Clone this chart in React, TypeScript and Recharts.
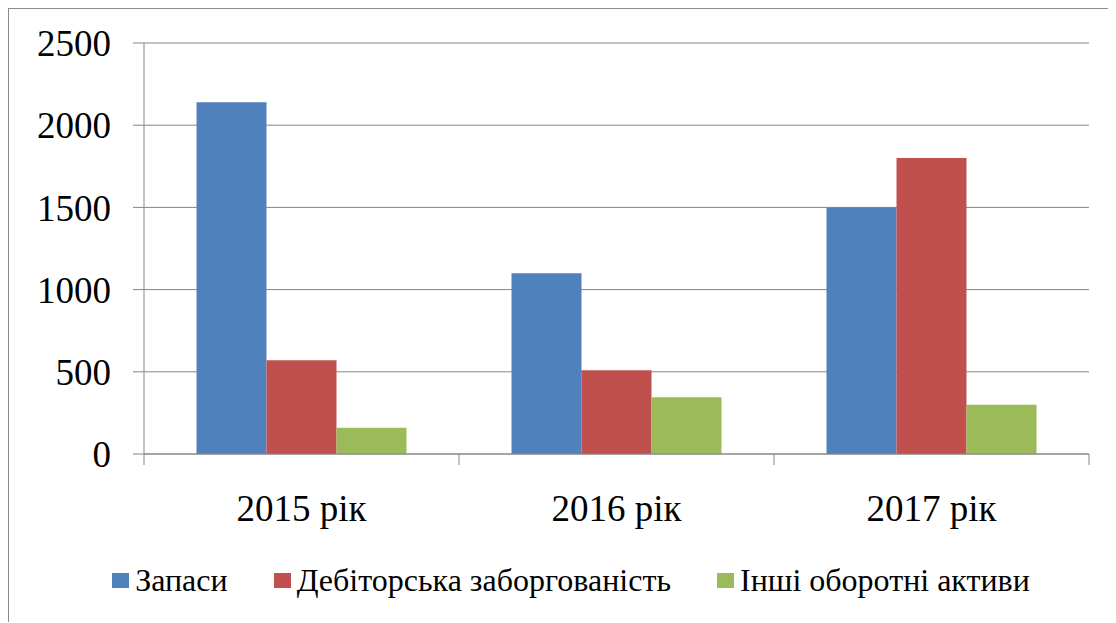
import React from 'react';
import {
  BarChart,
  Bar,
  XAxis,
  YAxis,
  CartesianGrid,
  Legend
} from 'recharts';

const years = ['2015 рік', '2016 рік', '2017 рік'];
const zapasy = [2140, 1100, 1500];
const debitorska = [570, 510, 1800];
const inshi = [160, 345, 300];
const yTicks = [0, 500, 1000, 1500, 2000, 2500];

const seriesInfo = [
  { key: 'zapasy', name: 'Запаси', color: '#4F81BD' },
  { key: 'debitorska', name: 'Дебіторська заборгованість', color: '#C0504D' },
  { key: 'inshi', name: 'Інші оборотні активи', color: '#9BBB59' }
];

const data = years.map((year, i) => ({
  year,
  zapasy: zapasy[i],
  debitorska: debitorska[i],
  inshi: inshi[i]
}));

const FONT = '"Liberation Serif", "DejaVu Serif", serif';
const GRID = '#868686';

// category label plus tick marks on the band edges (Excel style)
const CategoryTick = (props: any) => {
  const { x, y, payload, index } = props;
  const half = payload && payload.offset ? payload.offset : 0;
  return (
    <g>
      <line x1={x - half} x2={x - half} y1={y} y2={y + 11} stroke={GRID} strokeWidth={1} />
      {index === years.length - 1 && (
        <line x1={x + half} x2={x + half} y1={y} y2={y + 11} stroke={GRID} strokeWidth={1} />
      )}
      <text x={x} y={y + 67} textAnchor="middle" fontSize={37} fontFamily={FONT} fill="#000">
        {payload.value}
      </text>
    </g>
  );
};

const LegendContent = () => (
  <div
    style={{
      display: 'flex',
      justifyContent: 'center',
      alignItems: 'center',
      height: 88,
      paddingLeft: 44,
      paddingTop: 4,
      boxSizing: 'border-box',
      fontFamily: FONT,
      fontSize: 32,
      color: '#000'
    }}
  >
    {seriesInfo.map((s) => (
      <div key={s.key} style={{ display: 'flex', alignItems: 'center', margin: '0 23px' }}>
        <span style={{ width: 17, height: 15, background: s.color, marginRight: 6, display: 'inline-block' }} />
        <span style={{ fontFamily: FONT, fontSize: 32 }}>{s.name}</span>
      </div>
    ))}
  </div>
);

const App: React.FC = () => {
  return (
    <div
      style={{
        width: 1108,
        height: 614,
        boxSizing: 'border-box',
        borderLeft: '1px solid #8c8c8c',
        borderTop: '1px solid #8c8c8c',
        background: '#fff'
      }}
    >
      <BarChart
        width={1107}
        height={613}
        data={data}
        margin={{ top: 34, right: 27, left: 0, bottom: 0 }}
        barCategoryGap="16.67%"
        barGap={0}
      >
        <CartesianGrid vertical={false} stroke={GRID} strokeWidth={1} />
        <XAxis
          dataKey="year"
          height={80}
          tickSize={0}
          tickMargin={0}
          tickLine={false}
          axisLine={{ stroke: GRID }}
          tick={<CategoryTick />}
          interval={0}
        />
        <YAxis
          width={135}
          domain={[0, 2500]}
          ticks={yTicks}
          tickSize={11}
          tickMargin={22}
          axisLine={{ stroke: GRID }}
          tickLine={{ stroke: GRID }}
          tick={{ fontSize: 37, fontFamily: FONT, fill: '#000' }}
          interval={0}
        />
        <Legend
          verticalAlign="bottom"
          height={88}
          wrapperStyle={{ fontFamily: FONT }}
          content={<LegendContent />}
        />
        {seriesInfo.map((s) => (
          <Bar key={s.key} dataKey={s.key} name={s.name} fill={s.color} isAnimationActive={false} />
        ))}
      </BarChart>
    </div>
  );
};

export default App;
